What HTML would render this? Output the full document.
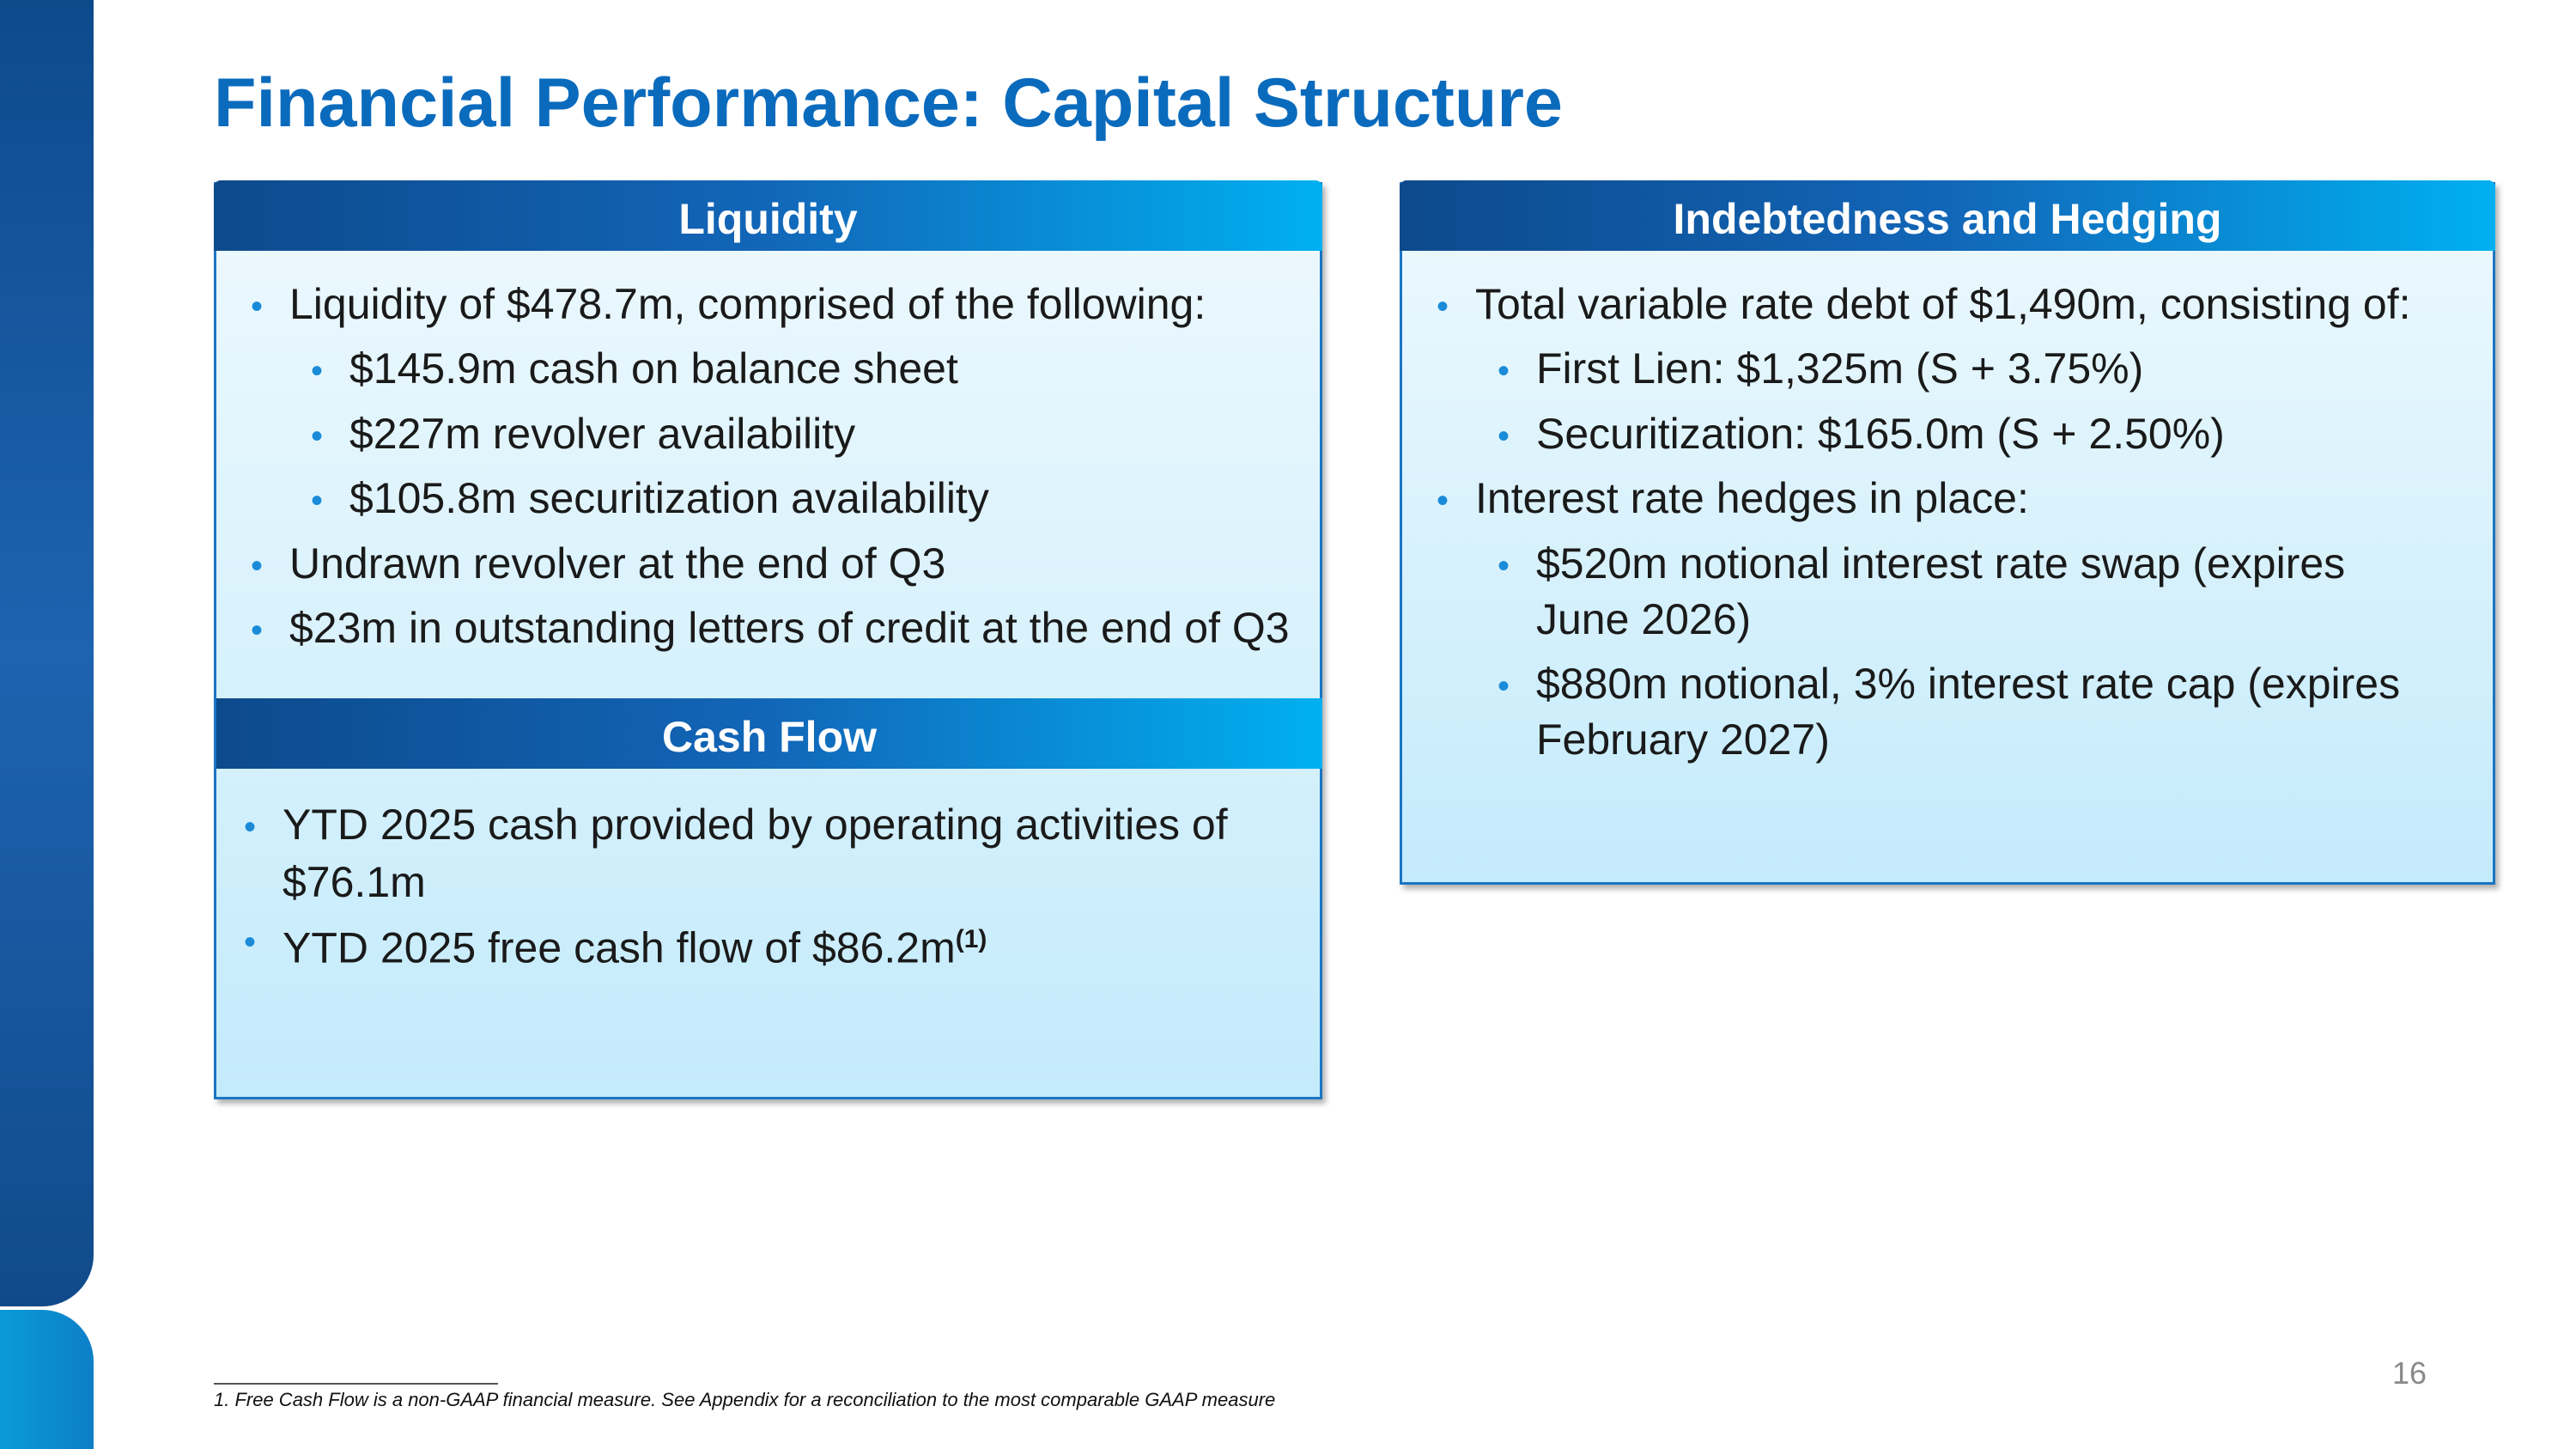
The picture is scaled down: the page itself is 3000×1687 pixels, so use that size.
<!DOCTYPE html>
<html><head><meta charset="utf-8"><style>
body{margin:0;width:3000px;height:1687px;position:relative;overflow:hidden;background:#fff;font-family:"Liberation Sans",Arial,sans-serif;}
.abs{position:absolute;}
.bar1{left:0;top:0;width:109px;height:1521px;background:linear-gradient(180deg,#0d4a8c,#1e63b0 50%,#104a8a);border-bottom-right-radius:60px;}
.bar2{left:0;top:1525px;width:109px;height:162px;background:linear-gradient(90deg,#0a9ad8,#0d7fc8);border-top-right-radius:60px;}
.title{left:249px;top:70px;font-size:81px;font-weight:bold;color:#0a6bbd;white-space:nowrap;line-height:100px;}
.panel{border:3px solid #1a75c4;box-shadow:4px 5px 6px rgba(0,0,0,.3);background:linear-gradient(180deg,#eef9fe,#c4ebfb);}
.hdr{background:linear-gradient(90deg,#0d4a8c,#1266b8 50%,#00b0f0);color:#fff;font-weight:bold;font-size:50px;text-align:center;line-height:82px;padding-top:4px;height:78px;border-radius:8px 8px 0 0;}
.t{position:absolute;font-size:50px;color:#1a1a1a;white-space:nowrap;line-height:60px;}
.b{position:absolute;font-size:40px;color:#1a8bd8;line-height:60px;}
</style></head><body>
<div class="abs bar1"></div><div class="abs bar2"></div>
<div class="abs title">Financial Performance: Capital Structure</div>

<div class="abs panel" style="left:249px;top:212px;width:1285px;height:1062px;"></div>
<div class="abs hdr" style="left:249px;top:210px;width:1291px;">Liquidity</div>
<div class="abs hdr" style="left:252px;top:813px;width:1288px;border-radius:0;">Cash Flow</div>

<div class="abs panel" style="left:1630px;top:212px;width:1270px;height:812px;"></div>
<div class="abs hdr" style="left:1630px;top:210px;width:1276px;">Indebtedness and Hedging</div>

<!-- Liquidity -->
<span class="b" style="left:292px;top:327px">•</span><span class="t" style="left:337px;top:324px">Liquidity of $478.7m, comprised of the following:</span>
<span class="b" style="left:362px;top:402px">•</span><span class="t" style="left:407px;top:399px">$145.9m cash on balance sheet</span>
<span class="b" style="left:362px;top:478px">•</span><span class="t" style="left:407px;top:475px">$227m revolver availability</span>
<span class="b" style="left:362px;top:553px">•</span><span class="t" style="left:407px;top:550px">$105.8m securitization availability</span>
<span class="b" style="left:292px;top:629px">•</span><span class="t" style="left:337px;top:626px">Undrawn revolver at the end of Q3</span>
<span class="b" style="left:292px;top:704px">•</span><span class="t" style="left:337px;top:701px">$23m in outstanding letters of credit at the end of Q3</span>

<!-- Cash flow -->
<span class="b" style="left:284px;top:933px">•</span><span class="t" style="left:329px;top:930px">YTD 2025 cash provided by operating activities of</span>
<span class="t" style="left:329px;top:997px">$76.1m</span>
<span class="b" style="left:284px;top:1067px">•</span><span class="t" style="left:329px;top:1064px">YTD 2025 free cash flow of $86.2m<sup style="font-size:30px;font-weight:bold">(1)</sup></span>

<!-- Right -->
<span class="b" style="left:1673px;top:327px">•</span><span class="t" style="left:1718px;top:324px">Total variable rate debt of $1,490m, consisting of:</span>
<span class="b" style="left:1744px;top:402px">•</span><span class="t" style="left:1789px;top:399px">First Lien: $1,325m (S + 3.75%)</span>
<span class="b" style="left:1744px;top:478px">•</span><span class="t" style="left:1789px;top:475px">Securitization: $165.0m (S + 2.50%)</span>
<span class="b" style="left:1673px;top:553px">•</span><span class="t" style="left:1718px;top:550px">Interest rate hedges in place:</span>
<span class="b" style="left:1744px;top:629px">•</span><span class="t" style="left:1789px;top:626px">$520m notional interest rate swap (expires</span>
<span class="t" style="left:1789px;top:691px">June 2026)</span>
<span class="b" style="left:1744px;top:769px">•</span><span class="t" style="left:1789px;top:766px">$880m notional, 3% interest rate cap (expires</span>
<span class="t" style="left:1789px;top:831px">February 2027)</span>

<div class="abs" style="left:249px;top:1610px;width:331px;height:2px;background:#555;"></div>
<div class="abs" style="left:249px;top:1617px;font-size:22px;font-style:italic;color:#111;white-space:nowrap;">1. Free Cash Flow is a non-GAAP financial measure. See Appendix for a reconciliation to the most comparable GAAP measure</div>
<div class="abs" style="left:2786px;top:1578px;font-size:36px;color:#8a8a8a;">16</div>
</body></html>
